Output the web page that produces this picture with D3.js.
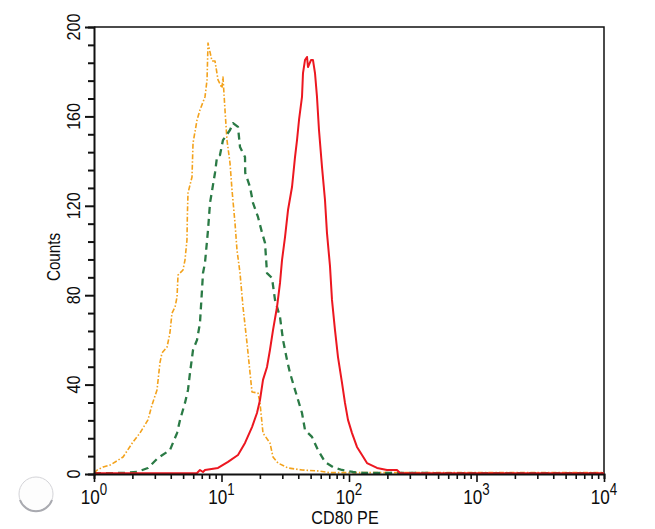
<!DOCTYPE html>
<html>
<head>
<meta charset="utf-8">
<script src="https://cdn.jsdelivr.net/npm/d3@7"></script>
<style>
    body { margin: 0; background: #fff; }
    svg { display: block; }
    text { font-family: "Liberation Sans", Arial, sans-serif; fill: #0c0c0c; }
</style>
</head>
<body>
<svg></svg>
<script>
// fluorescence (CD80 PE) vs counts
const isotypeFL = [1.00, 1.06, 1.18, 1.34, 1.69, 2.02, 2.29, 2.65, 2.85, 3.12, 3.29, 3.41, 3.74, 3.94, 4.09, 4.32, 4.48, 4.56, 4.99, 5.17, 5.36, 5.40, 5.46, 5.87, 5.98, 6.43, 6.78, 7.42, 7.70, 7.84, 8.42, 8.89, 9.39, 10.09, 10.27, 10.65, 11.04, 11.66, 12.09, 12.76, 13.23, 13.97, 14.75, 15.85, 16.74, 17.35, 19.33, 20.04, 21.16, 23.99, 25.35, 27.75, 33.24, 42.79, 59.23, 70, 10000];
const isotypeCounts = [0.5, 1.8, 3.1, 4.0, 7.6, 14.3, 18.3, 24.2, 30.9, 37.6, 49.7, 54.1, 56.8, 63.1, 72.0, 74.7, 79.2, 89.0, 91.3, 95.7, 104.7, 115.9, 125.7, 132.9, 148.1, 158.4, 162.9, 168.7, 176.3, 192.8, 184.8, 184.8, 176.3, 172.7, 177.6, 162.9, 149.4, 139.1, 127.1, 112.3, 100.2, 89.9, 74.7, 58.6, 45.2, 36.7, 36.2, 31.8, 18.3, 13.9, 7.6, 4.9, 2.7, 1.8, 1.3, 0.6, 0.6];

const restingFL = [1.00, 1.69, 2.17, 2.65, 3.18, 3.94, 4.48, 4.73, 5.17, 5.46, 5.66, 5.98, 6.43, 6.78, 7.03, 7.16, 7.42, 7.84, 8.13, 8.89, 9.22, 9.73, 10.27, 11.66, 12.31, 13.47, 13.97, 15.29, 15.35, 16.74, 17.66, 19.33, 20.78, 21.94, 22.75, 24.89, 26.28, 28.77, 30.37, 32.65, 34.46, 37.11, 42.79, 45.17, 51.25, 57.12, 64.82, 74.9, 88.2, 107.4, 130, 10000];
const restingCounts = [0.4, 0.45, 0.9, 2.7, 7.2, 10.7, 18.3, 24.2, 31.8, 37.6, 45.2, 55.5, 60.0, 67.6, 82.3, 89.9, 94.4, 109.2, 121.3, 134.7, 141.8, 142.7, 149.4, 153.9, 157.0, 155.3, 146.3, 141.8, 134.7, 128.4, 121.3, 115.0, 108.0, 103.4, 89.9, 87.7, 77.9, 70.2, 60.0, 51.0, 45.2, 39.0, 27.3, 19.7, 16.6, 10.7, 5.4, 3.1, 1.8, 0.9, 0.45, 0.4];

const activatedFL = [1.00, 6.43, 6.78, 7.16, 7.42, 9.39, 11.25, 13.47, 15.29, 17.35, 18.98, 20.04, 21.16, 22.75, 23.99, 25.35, 27.25, 28.77, 29.83, 31.49, 33.24, 35.73, 37.72, 39.11, 40.55, 42.79, 43.57, 45.17, 46.84, 47.69, 50.33, 52.19, 54.11, 56.10, 58.16, 61.40, 64.82, 67.20, 70.94, 73.55, 77.66, 81.98, 88.2, 93.0, 98.2, 105.6, 115.5, 126.5, 138.4, 165.9, 198.6, 237.8, 251, 10000];
const activatedCounts = [0.3, 0.45, 1.8, 0.9, 1.8, 2.7, 5.4, 8.5, 13.9, 21.0, 27.3, 33.1, 42.1, 47.9, 55.5, 64.4, 74.7, 85.5, 95.7, 106.0, 118.1, 128.4, 141.8, 149.4, 158.4, 168.7, 179.4, 185.2, 186.6, 182.1, 185.2, 185.2, 179.4, 168.7, 153.9, 137.4, 122.6, 107.8, 93.0, 77.9, 64.4, 52.3, 40.7, 31.8, 24.2, 18.3, 12.1, 8.5, 4.9, 2.7, 1.8, 1.8, 0.45, 0.3];

const yTicks = [0, 40, 80, 120, 160, 200];
const xDecades = [0, 1, 2, 3, 4];

const width = 655, height = 529;
const margin = { left: 94, right: 604, top: 27, bottom: 474 };

const svg = d3.select("svg")
    .attr("width", width)
    .attr("height", height);

const x = d3.scaleLog().domain([1, 10000]).range([margin.left, margin.right]);
const y = d3.scaleLinear().domain([0, 200]).range([margin.bottom, margin.top]);

// hole punch mark from the scan
svg.append("circle")
    .attr("cx", 36).attr("cy", 494).attr("r", 17)
    .attr("fill", "#fdfdfd")
    .attr("stroke", "#d4d4d8")
    .attr("stroke-width", 1);
svg.append("path")
    .attr("d", "M20,500 A17,17 0 0 0 52,500")
    .attr("fill", "none")
    .attr("stroke", "#a9aab0")
    .attr("stroke-width", 2);

// frame (top / right thin)
svg.append("path")
    .attr("d", `M${margin.left},${margin.top}H${margin.right}V${margin.bottom}`)
    .attr("fill", "none")
    .attr("stroke", "#111")
    .attr("stroke-width", 1.5);

// histograms
const line = d3.line()
    .x(d => x(d[0]))
    .y(d => y(d[1]));

const series = [
    { fl: isotypeFL, counts: isotypeCounts, color: "#f3a21c", width: 1.6, dash: "5,2,1.5,2" },
    { fl: restingFL, counts: restingCounts, color: "#2a7a45", width: 2.3, dash: "7,5" },
    { fl: activatedFL, counts: activatedCounts, color: "#ec1720", width: 2, dash: null }
];

series.forEach(s => {
    svg.append("path")
        .datum(d3.zip(s.fl, s.counts))
        .attr("fill", "none")
        .attr("stroke", s.color)
        .attr("stroke-width", s.width)
        .attr("stroke-dasharray", s.dash)
        .attr("stroke-linejoin", "round")
        .attr("d", line);
});

// y axis
const yAxis = svg.append("g")
    .attr("transform", `translate(${margin.left},0)`)
    .call(d3.axisLeft(y).tickValues(d3.range(0, 201, 8)).tickSize(6).tickFormat(""));
yAxis.select(".domain").attr("stroke-width", 2).attr("stroke", "#111");
yAxis.selectAll(".tick line")
    .attr("stroke-width", 2).attr("stroke", "#111")
    .attr("x2", d => yTicks.includes(d) ? -9 : -6);

svg.selectAll(".ylab")
    .data(yTicks)
    .enter().append("text")
    .attr("class", "ylab")
    .attr("transform", d => `translate(80,${y(d)}) rotate(-90) scale(0.95,1.12)`)
    .attr("text-anchor", "middle")
    .style("font-size", "17px")
    .text(d => d);

// x axis
const minorX = [];
xDecades.slice(0, -1).forEach(e => d3.range(1, 10).forEach(m => minorX.push(m * Math.pow(10, e))));
minorX.push(10000);

const xAxis = svg.append("g")
    .attr("transform", `translate(0,${margin.bottom})`)
    .call(d3.axisBottom(x).tickValues(minorX).tickSize(5).tickFormat(""));
xAxis.select(".domain").attr("stroke-width", 2).attr("stroke", "#111");
xAxis.selectAll(".tick line")
    .attr("stroke-width", 1.6).attr("stroke", "#111")
    .attr("y2", d => Number.isInteger(Math.log10(d)) ? 8 : 5);

const xl = svg.selectAll(".xlab")
    .data(xDecades)
    .enter().append("text")
    .attr("class", "xlab")
    .attr("transform", d => `translate(${x(Math.pow(10, d))},504) scale(0.95,1.12)`)
    .attr("text-anchor", "middle")
    .style("font-size", "18px");
xl.append("tspan").text("10");
xl.append("tspan").attr("dy", -8).style("font-size", "14px").text(d => d);

// axis titles
svg.append("text")
    .attr("transform", "translate(345,524) scale(0.95,1.1)")
    .attr("text-anchor", "middle")
    .style("font-size", "17px")
    .text("CD80 PE");

svg.append("text")
    .attr("transform", "translate(60,257) rotate(-90) scale(0.95,1.12)")
    .attr("text-anchor", "middle")
    .style("font-size", "16px")
    .text("Counts");
</script>
</body>
</html>
